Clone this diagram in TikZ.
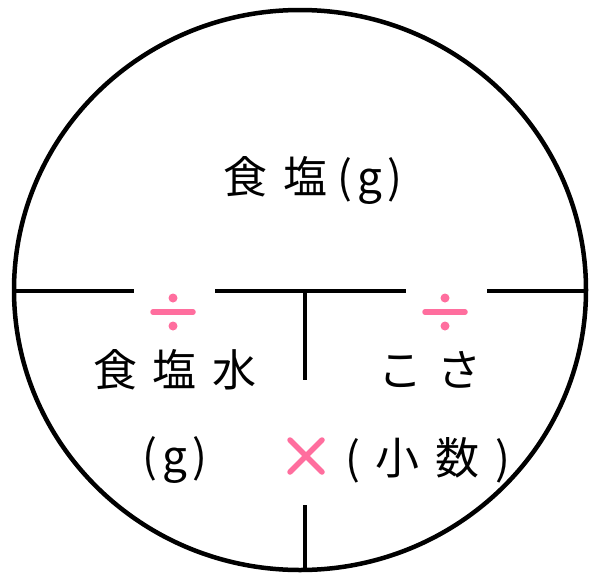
\documentclass[tikz,border=0pt]{standalone}
\usepackage{fontspec}
\newfontfamily\jp{Noto Sans CJK JP}
\definecolor{pinkop}{HTML}{FF6E9E}
\newcommand{\gap}{\hspace{16pt}}
\newcommand{\sgap}{\hspace{5pt}}
\begin{document}
\begin{tikzpicture}[x=1pt,y=-1pt,line width=4.5pt]
\useasboundingbox (0,0) rectangle (589,576);
\tikzset{word/.style={font=\jp\fontsize{44}{48}\selectfont},
  op/.style={minimum size=40pt,inner sep=0pt},
  opline/.style={draw=pinkop,line width=5.5pt,line cap=round}}
% outer circle
\draw (300,290) ellipse (286 and 280);
% dividing lines
\coordinate (w) at (14,291);
\coordinate (gl1) at (134,291);
\coordinate (gl2) at (215,291);
\coordinate (mid) at (305,291);
\coordinate (gr1) at (406,291);
\coordinate (gr2) at (487,291);
\coordinate (e) at (586,291);
\draw (w) -- (gl1);
\draw (gl2) -- (gr1);
\draw (gr2) -- (e);
\coordinate (vtop) at (305,380);
\coordinate (vlow) at (305,505);
\coordinate (s) at (305,570);
\draw (mid) -- (vtop);
\draw (vlow) -- (s);
% labels
\node[word] (salt) at (313,180) {食\gap 塩\hspace{10pt}(\sgap g\sgap)};
\node[word] (water) at (175,370) {食\gap 塩\gap 水};
\node[word] (waterg) at (175,460) {(\sgap g\sgap)};
\node[word] (conc) at (430,370) {こ\gap さ};
\node[word] (dec) at (428,460) {(\gap 小\gap 数\gap )};
% operators
\node[op] (divl) at (173,312) {};
\node[op] (divr) at (445,312) {};
\node[op] (times) at (306,456) {};
\foreach \d in {divl,divr} {
  \draw[opline] ([xshift=-20pt]\d.center) -- ([xshift=20pt]\d.center);
  \fill[pinkop] ([yshift=-14pt]\d.center) circle (4.5pt);
  \fill[pinkop] ([yshift=14pt]\d.center) circle (4.5pt);
}
\draw[opline] ([shift={(-16pt,-16pt)}]times.center) -- ([shift={(16pt,16pt)}]times.center);
\draw[opline] ([shift={(-16pt,16pt)}]times.center) -- ([shift={(16pt,-16pt)}]times.center);
\end{tikzpicture}
\end{document}
